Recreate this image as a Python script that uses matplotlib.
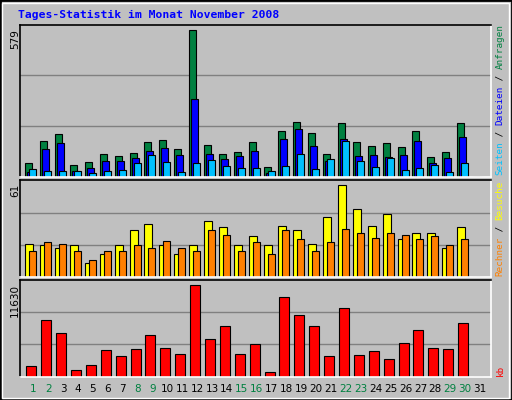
import numpy as np
import matplotlib.pyplot as plt
from matplotlib.patches import Rectangle

days = np.arange(1, 32)
anfragen = [54, 141, 168, 46, 58, 89, 82, 93, 137, 145, 109, 579, 125, 89, 97, 137, 38, 180, 216, 172, 89, 212, 137, 121, 133, 117, 180, 78, 97, 212, 0]
dateien = [18, 109, 133, 22, 34, 62, 62, 74, 101, 113, 86, 307, 89, 70, 82, 101, 14, 149, 188, 121, 62, 149, 82, 86, 78, 86, 141, 54, 74, 157, 0]
seiten = [30, 22, 22, 22, 14, 22, 26, 54, 86, 58, 18, 54, 66, 42, 34, 34, 22, 42, 89, 30, 70, 141, 62, 38, 74, 26, 34, 46, 18, 54, 0]
besuche = [22, 21, 19, 21, 9, 15, 21, 31, 35, 21, 15, 21, 37, 33, 21, 27, 21, 34, 31, 22, 40, 61, 45, 34, 42, 25, 29, 29, 19, 33, 0]
rechner = [17, 23, 22, 17, 11, 17, 17, 21, 19, 24, 19, 17, 31, 28, 17, 23, 15, 31, 25, 17, 23, 32, 29, 26, 29, 28, 25, 27, 21, 25, 0]
kb = [1316, 7174, 5518, 807, 1443, 3354, 2589, 3481, 5264, 3608, 2844, 11630, 4754, 6410, 2844, 4118, 552, 10103, 7811, 6410, 2589, 8702, 2717, 3226, 2207, 4245, 5901, 3608, 3481, 6792, 0]
weekend = [1, 2, 8, 9, 15, 16, 22, 23, 29, 30]

W, H = 512, 400
fig = plt.figure(figsize=(5.12, 4), dpi=100, facecolor='#c0c0c0')

# bevel frame
fig.patches.append(Rectangle((0, 0), 1, 1, transform=fig.transFigure, fill=False, ec='black', lw=2))
fig.patches.append(Rectangle((2/W, 2/H), 1-5/W, 1-5/H, transform=fig.transFigure, fill=False, ec='white', lw=1))

def panel(top, bottom, vmax, bot_px, max_px):
    ax = fig.add_axes([20/W, 1-bottom/H, 470.7/W, (bottom-top)/H])
    ax.set_facecolor('#c0c0c0')
    ax.set_xlim(0.107, 31.72)
    hpx = bottom - top
    ax.set_ylim(0, vmax*hpx/(bot_px-max_px))
    for f in (1/3, 2/3):
        ax.axhline(ax.get_ylim()[1]*f, color='#808080', lw=1, zorder=0)
    ax.set_xticks([]); ax.set_yticks([])
    ax.spines['top'].set_color('black'); ax.spines['left'].set_color('black')
    ax.spines['bottom'].set_color('white'); ax.spines['right'].set_color('white')
    for s in ax.spines.values():
        s.set_linewidth(1.2)
    return ax

ax1 = panel(24.5, 177, 579, 176, 29.3)
ax1.bar(days-0.537, anfragen, width=0.47, align='edge', color='#008040', ec='black', lw=0.8)
ax1.bar(days-0.40, dateien, width=0.47, align='edge', color='#0000ff', ec='black', lw=0.8)
ax1.bar(days-0.27, seiten, width=0.47, align='edge', color='#00c0ff', ec='black', lw=0.8)

ax2 = panel(180.3, 277, 61, 276.3, 184.3)
ax2.bar(days-0.537, besuche, width=0.54, align='edge', color='#ffff00', ec='black', lw=0.8)
ax2.bar(days-0.27, rechner, width=0.47, align='edge', color='#ff8000', ec='black', lw=0.8)

ax3 = panel(280.3, 376.5, 11630, 375.7, 284.3)
ax3.bar(days-0.47, kb, width=0.67, align='edge', color='#ff0000', ec='black', lw=0.8)

# left max labels
for txt, y in [('579', 29), ('61', 184), ('11630', 284)]:
    fig.text(15/W, 1-y/H, txt, rotation=90, rotation_mode='anchor', ha='right', va='center',
             fontsize=7.5, family='DejaVu Sans')

# right legends built char by char
cpx = 5.56
def legend(parts, ybase):
    i = 0
    for s, c in parts:
        fig.text(500/W, 1-(ybase - i*cpx)/H, s, rotation=90, rotation_mode='anchor', ha='left',
                 va='center', fontsize=6.7, family='DejaVu Sans Mono', color=c)
        i += len(s)

legend([('Seiten', '#00c0ff'), (' / ', 'black'), ('Dateien', '#0000ff'), (' / ', 'black'), ('Anfragen', '#008040')], 175)
legend([('Rechner', '#ff8000'), (' / ', 'black'), ('Besuche', '#ffff00')], 276)
legend([('kb', '#ff0000')], 376)

for d in days:
    fig.text((33.3 + (d-1)*14.89)/W, 1-389/H, str(d), ha='center', va='center', fontsize=7.5,
             color='#008040' if d in weekend else 'black')

fig.text(18/W, 1-15/H, 'Tages-Statistik im Monat November 2008', ha='left', va='center',
         fontsize=8.2, weight='bold', family='DejaVu Sans Mono', color='#0000ff')

fig.savefig('out.png', dpi=100, facecolor=fig.get_facecolor())
